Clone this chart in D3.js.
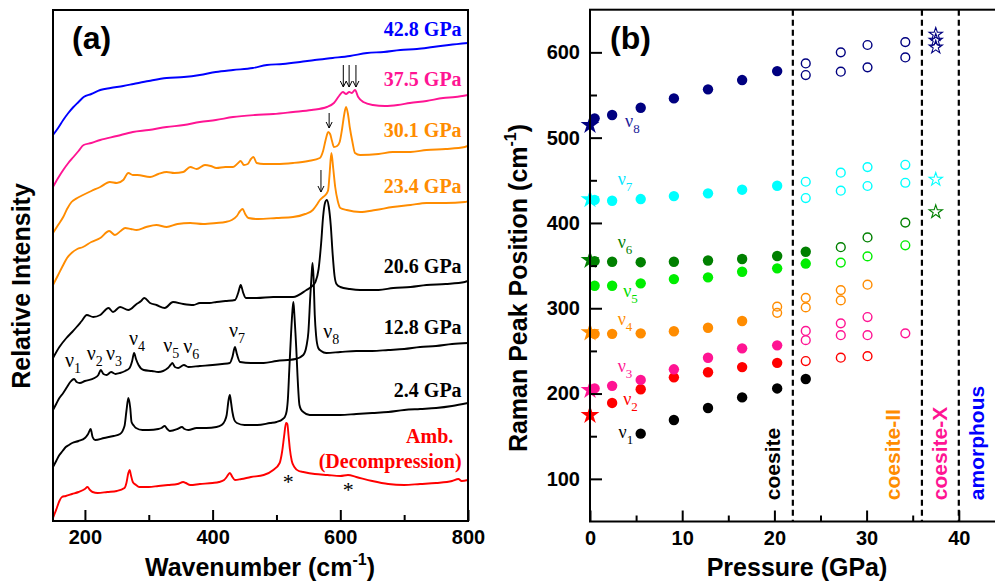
<!DOCTYPE html>
<html><head><meta charset="utf-8">
<script src="https://cdn.jsdelivr.net/npm/d3@7/dist/d3.min.js"></script>
<style>
body{margin:0;background:#fff;}
svg{display:block;}
</style></head>
<body>
<svg id="chart" width="995" height="587"></svg>
<script>
// ================= Panel (a): Raman spectra (wavenumber, relative intensity a.u.) =================
const spec428 = [[150,386],[158,393],[166,401],[174,408],[182,414],[190,419],[198,424],[210,427],[224,431],[240,433],[260,435],[276,437],[300,440],[328,443],[355,444],[380,446],[405,449],[432,451],[463,453],[485,456],[510,457],[537,459],[560,461],[588,463],[615,465],[642,468],[668,469],[694,471],[720,472],[745,474],[770,476],[800,478]];
const spec375 = [[150,334],[158,343],[166,351],[174,358],[182,364],[190,370],[198,376],[210,378],[224,381],[250,385],[275,389],[300,391],[328,394],[355,396],[380,399],[405,401],[432,404],[466,406],[495,407],[526,409],[555,411],[579,414],[590,418],[598,425],[604,429],[609,427],[614,429],[618,428],[623,431],[628,424],[636,419],[651,416],[670,415],[690,416],[709,418],[735,420],[761,423],[780,424],[800,426]];
const spec301 = [[150,288],[158,296],[166,304],[172,312],[179,319],[188,323],[197,326],[210,330],[224,334],[239,339],[250,338],[260,341],[268,348],[275,346],[282,346],[302,344],[315,347],[328,349],[340,348],[354,349],[365,354],[375,352],[388,356],[397,355],[406,353],[420,354],[432,354],[440,358],[444,360],[449,356],[455,357],[460,362],[464,364],[469,358],[480,357],[500,357],[526,358],[550,360],[568,363],[573,370],[577,381],[581,389],[584,387],[587,380],[590,374],[595,375],[599,379],[603,393],[606,406],[609,414],[612,407],[615,393],[619,379],[623,368],[631,366],[660,367],[682,369],[710,369],[735,371],[765,372],[795,374],[800,375]];
const spec234 = [[150,236],[158,246],[166,256],[172,263],[179,268],[188,272],[197,274],[210,279],[224,283],[238,290],[247,286],[256,290],[263,293],[272,292],[281,291],[296,294],[312,296],[328,294],[345,297],[365,298],[385,297],[406,298],[420,299],[430,301],[438,305],[443,310],[447,312],[451,307],[456,303],[471,302],[500,303],[526,304],[545,307],[557,311],[564,317],[568,321],[573,324],[578,327],[581,331],[583,345],[586,368],[589,352],[592,334],[596,320],[600,313],[610,311],[631,309],[655,311],[682,314],[710,316],[735,318],[765,318],[795,319],[800,320]];
const spec206 = [[150,163],[160,174],[171,183],[180,189],[187,194],[195,200],[203,206],[213,204],[224,206],[237,213],[244,209],[255,214],[268,211],[281,217],[288,220],[293,223],[302,218],[312,216],[325,213],[338,219],[354,217],[370,216],[380,218],[395,218],[406,219],[420,220],[435,221],[440,228],[444,236],[448,228],[452,223],[469,223],[495,224],[526,224],[547,231],[556,235],[561,239],[566,252],[570,278],[573,304],[576,318],[579,321],[582,314],[585,296],[588,267],[591,245],[594,237],[600,234],[615,232],[631,231],[660,231],[683,233],[710,234],[735,236],[765,237],[795,239],[800,240]];
const spec128 = [[150,111],[155,117],[160,123],[166,128],[172,134],[177,139],[183,142],[187,139],[192,138],[200,140],[215,143],[221,146],[225,151],[229,147],[234,146],[241,149],[248,147],[255,148],[263,150],[270,153],[274,160],[277,168],[280,162],[284,156],[292,151],[305,150],[315,149],[330,153],[334,156],[337,158],[341,154],[346,153],[355,156],[362,154],[380,155],[400,156],[415,157],[427,158],[431,164],[435,174],[438,167],[443,159],[460,158],[480,158],[500,160],[530,162],[542,166],[547,175],[550,189],[553,225],[555,246],[556.5,258],[558,245],[560,206],[562,186],[565.5,173],[570,170],[578,168],[600,169],[625,170],[650,170],[675,171],[700,172],[725,174],[750,175],[775,177],[800,178]];
const spec24 = [[150,54],[155,60],[160,66],[165,70],[170,74],[175,76],[180,78],[190,80],[200,83],[205,87],[209,92],[212,84],[216,81],[230,83],[245,85],[255,87],[262,95],[265,110],[268,123],[271,113],[273,99],[277,95],[280,93],[290,91],[300,91],[315,92],[320,93],[325,95],[329,92],[333,90],[345,92],[352,94],[356,92],[362,91],[375,93],[390,93],[406,94],[414,96],[419,100],[422,106],[425,121],[427,126],[429,118],[431,109],[434,101],[438,98],[450,96],[470,96],[490,98],[500,99],[510,102],[513,104],[516,110],[518,123],[520,150],[523,189],[525,210],[526.5,219],[528,207],[530,185],[531,173],[533,145],[536,116],[539,111],[542,109],[552,106],[565,106],[580,106],[600,106],[625,107],[650,108],[675,109],[700,111],[725,112],[750,113],[775,115],[800,118]];
const specAmb = [[150,3],[153,8],[156,13],[160,20],[164,24],[170,25],[180,27],[190,29],[200,32],[204,34],[208,31],[212,29],[220,28],[235,29],[250,30],[262,33],[265,38],[268,48],[270,51],[272,46],[275,39],[280,36],[285,34],[300,34],[315,35],[330,36],[345,37],[354,39],[358,38],[365,36],[380,37],[400,38],[410,39],[418,41],[422,44],[427,48],[431,44],[435,41],[445,42],[460,44],[480,46],[495,51],[505,58],[509,70],[512,85],[515,98],[517,97],[519,85],[521,72],[524,60],[528,54],[535,50],[542,49],[560,47],[580,46],[600,45],[612,46],[625,44],[650,40],[675,37],[700,36],[725,37],[750,38],[775,40],[785,42],[790,40],[800,41]];

const specNames  = ["42.8 GPa","37.5 GPa","30.1 GPa","23.4 GPa","20.6 GPa","12.8 GPa","2.4 GPa","Amb."];
const specColors = ["#0000FF","#FF1493","#FF8C00","#FF8C00","#000000","#000000","#000000","#FF0000"];
const specLabelW = [790,790,790,790,790,790,790,777];
const specLabelI = [485,435,384,328,248,187,124,78];

const wnTicks = [200,400,600,800];
const wnMinor = [300,500,700];

// mode labels on spectra (subscript, wavenumber, intensity)
const modeLabelN = [1,2,3,4,5,6,7,8];
const modeLabelW = [168.8,202.7,233,269,322.7,354,425.6,573.3];
const modeLabelI = [154,161,161,176,169,168,184,183];

// arrows: wavenumber, top intensity, bottom intensity
const arrowW   = [604.7,613.8,624.5,582.5,569.7];
const arrowTop = [456,456,456,408,351];
const arrowBot = [434,434,434,393,329];

// asterisks on ambient spectrum
const starMarkW = [518.5,612.5];
const starMarkI = [41,33];

// ================= Panel (b): peak positions vs pressure =================
const pFilled = [0.5,2.4,5.5,9.1,12.8,16.5,20.3,23.4];
const nu1 = [null,null,153,169,183,195.5,206,217];
const nu2 = [null,189,205,219,225,231,236,null];
const nu3 = [206,209,216,228.4,242,253,256.5,null];
const nu4 = [270,270,270.6,273,277.2,285,null,null];
const nu5 = [326.4,326.4,329.2,334.2,336.2,342.8,346.8,352.4];
const nu6 = [355.3,354.5,354,354.5,356,357.7,361.2,366.2];
const nu7 = [427,426,428,431.5,434.7,439,443.6,null];
const nu8 = [522.6,526.5,535,546,556.6,567.5,578,null];

const pOpen = [20.3,23.4,27.2,30.1,34.2];
const nu2Open = [[],[238.1],[242],[243.8],[]];
const nu3Open = [[],[273.4,262.6],[282.3,268.4],[289.7,268.4],[270.6]];
const nu4Open = [[301.9,294.6],[312.2,301],[321.3,309.2],[327.6],[]];
const nu5Open = [[],[],[353.5],[360.8],[373.8]];
const nu6Open = [[],[],[371.6],[383],[400.4]];
const nu7Open = [[],[448.3,429.2],[458.9,437.8],[465.5,443.3],[468.2,447.1]];
const nu8Open = [[],[587,573.4],[600,577.3],[608.6,582.4],[612,594]];

const pAmbient = 0;
const ambModes  = [2,3,4,6,7,8];
const ambValues = [174.8,204.1,271.7,356.5,427.7,514.8];

const pX = 37.5;
const xModes  = [8,8,8,7,6];
const xValues = [621,614,606,451,413];

const modeColors = {1:"#000000",2:"#FF0000",3:"#FF1493",4:"#FF8C00",5:"#00EE00",6:"#008000",7:"#00FFFF",8:"#000080"};
const modeLabelColors = {1:"#000000",2:"#FF0000",3:"#FF1493",4:"#FF8C00",5:"#00DD00",6:"#008000",7:"#00E5FF",8:"#1A1A9A"};
const bLabelN = [8,7,6,5,4,3,2,1];
const bLabelP = [3.8,3.0,3.0,3.6,3.0,3.0,3.6,3.1];
const bLabelV = [512,444.4,370.2,313.5,280.3,225.6,186.5,147.5];

const phaseBounds = [22,36,40];
const phaseNames  = ["coesite","coesite-II","coesite-X","amorphous"];
const phaseColors = ["#000000","#FF8C00","#FF1493","#0000FF"];
const phaseLabelP = [20.6,33.6,38.7,42.7];

const pTicks = [0,10,20,30,40];
const pMinor = [5,15,25,35];
const vTicks = [100,200,300,400,500,600];
const vMinor = [150,250,350,450,550];

// ================= Drawing =================
const SANS = "'Liberation Sans', Arial, Helvetica, sans-serif";
const SERIF = "'Liberation Serif', 'Times New Roman', serif";
const svg = d3.select("#chart");
const defs = svg.append("defs");

// ---------- panel (a)
const xA = d3.scaleLinear().domain([150,800]).range([53,468]);
const yA = d3.scaleLinear().domain([0,511]).range([521,10]);
defs.append("clipPath").attr("id","clipA").append("rect")
  .attr("x",xA(150)).attr("y",yA(511)).attr("width",xA(800)-xA(150)).attr("height",yA(0)-yA(511));
const gA = svg.append("g");

const lineA = d3.line().x(d=>xA(d[0])).y(d=>yA(d[1])).curve(d3.curveMonotoneX);
const allSpec = [spec428,spec375,spec301,spec234,spec206,spec128,spec24,specAmb];
gA.append("g").attr("clip-path","url(#clipA)").selectAll("path").data(allSpec).join("path")
  .attr("d",d=>lineA(d)).attr("fill","none")
  .attr("stroke",(d,i)=>specColors[i]).attr("stroke-width",1.9).attr("stroke-linejoin","round");

// pressure labels
gA.selectAll("text.pl").data(specNames).join("text").attr("class","pl")
  .attr("x",(d,i)=>xA(specLabelW[i])).attr("y",(d,i)=>yA(specLabelI[i]))
  .attr("text-anchor","end").attr("font-family",SERIF).attr("font-weight","bold")
  .attr("font-size",20).attr("fill",(d,i)=>specColors[i]).text(d=>d);
gA.append("text").attr("x",xA(790)).attr("y",yA(53)).attr("text-anchor","end")
  .attr("font-family",SERIF).attr("font-weight","bold").attr("font-size",20).attr("fill","#FF0000")
  .text("(Decompression)");

// mode labels
const ml = gA.selectAll("text.ml").data(modeLabelN).join("text").attr("class","ml")
  .attr("x",(d,i)=>xA(modeLabelW[i])).attr("y",(d,i)=>yA(modeLabelI[i]))
  .attr("font-family",SERIF).attr("font-size",20).attr("fill","#000");
ml.append("tspan").text("ν");
ml.append("tspan").attr("dy",6).attr("font-size",14).text(d=>d);

// arrows
defs.append("marker").attr("id","arr").attr("viewBox","0 0 8 8").attr("refX",7).attr("refY",4)
  .attr("markerWidth",8).attr("markerHeight",8).attr("markerUnits","userSpaceOnUse").attr("orient","auto")
  .append("path").attr("d","M1,1 L7,4 L1,7").attr("fill","none").attr("stroke","#000").attr("stroke-width",1);
gA.selectAll("line.ar").data(arrowW).join("line").attr("class","ar")
  .attr("x1",d=>xA(d)).attr("x2",d=>xA(d))
  .attr("y1",(d,i)=>yA(arrowTop[i])).attr("y2",(d,i)=>yA(arrowBot[i]))
  .attr("stroke","#000").attr("stroke-width",1).attr("marker-end","url(#arr)");

// asterisks
gA.selectAll("text.ast").data(starMarkW).join("text").attr("class","ast")
  .attr("x",d=>xA(d)).attr("y",(d,i)=>yA(starMarkI[i])+9)
  .attr("text-anchor","middle").attr("font-family",SERIF).attr("font-size",22).text("*");

// axes
function styleAxis(g){
  g.select(".domain").remove();
  g.selectAll(".tick line").attr("stroke","#000").attr("stroke-width",2);
  g.selectAll(".tick text").attr("font-family",SANS).attr("font-weight","bold").attr("font-size",20).attr("fill","#000");
}
gA.append("g").attr("transform",`translate(0,${yA(0)})`)
  .call(d3.axisBottom(xA).tickValues(wnTicks).tickSize(-11).tickPadding(9).tickFormat(d3.format("d"))).call(styleAxis);
gA.append("g").attr("transform",`translate(0,${yA(0)})`)
  .call(d3.axisBottom(xA).tickValues(wnMinor).tickSize(-6).tickFormat("")).call(styleAxis);
gA.append("rect").attr("x",xA(150)).attr("y",yA(511)).attr("width",xA(800)-xA(150)).attr("height",yA(0)-yA(511))
  .attr("fill","none").attr("stroke","#000").attr("stroke-width",2);

gA.append("text").attr("x",72).attr("y",49).attr("font-family",SANS).attr("font-weight","bold").attr("font-size",32).text("(a)");
const xtA = gA.append("text").attr("x",260).attr("y",576).attr("text-anchor","middle")
  .attr("font-family",SANS).attr("font-weight","bold").attr("font-size",25);
xtA.append("tspan").text("Wavenumber (cm");
xtA.append("tspan").attr("dy",-11).attr("font-size",16).text("-1");
xtA.append("tspan").attr("dy",11).text(")");
gA.append("text").attr("transform","translate(30,286) rotate(-90)").attr("text-anchor","middle")
  .attr("font-family",SANS).attr("font-weight","bold").attr("font-size",25).text("Relative Intensity");

// ---------- panel (b)
const xB = d3.scaleLinear().domain([0,45]).range([590,1004.9]);
const yB = d3.scaleLinear().domain([50,650]).range([521.5,9.7]);
const gB = svg.append("g");

// dashed boundaries
gB.selectAll("line.ph").data(phaseBounds).join("line").attr("class","ph")
  .attr("x1",d=>xB(d)).attr("x2",d=>xB(d)).attr("y1",yB(650)).attr("y2",yB(50))
  .attr("stroke","#000").attr("stroke-width",2.2).attr("stroke-dasharray","6,4");

// filled circles
const filledSets = [[1,nu1],[2,nu2],[3,nu3],[4,nu4],[5,nu5],[6,nu6],[7,nu7],[8,nu8]];
const filledPts = [];
filledSets.forEach(([m,arr])=>arr.forEach((v,i)=>{ if(v!==null) filledPts.push({m, p:pFilled[i], v}); }));
gB.selectAll("circle.f").data(filledPts).join("circle").attr("class","f")
  .attr("cx",d=>xB(d.p)).attr("cy",d=>yB(d.v)).attr("r",5.2).attr("fill",d=>modeColors[d.m]);

// open circles
const openSets = [[2,nu2Open],[3,nu3Open],[4,nu4Open],[5,nu5Open],[6,nu6Open],[7,nu7Open],[8,nu8Open]];
const openPts = [];
openSets.forEach(([m,arr])=>arr.forEach((vs,i)=>vs.forEach(v=>openPts.push({m, p:pOpen[i], v}))));
gB.selectAll("circle.o").data(openPts).join("circle").attr("class","o")
  .attr("cx",d=>xB(d.p)).attr("cy",d=>yB(d.v)).attr("r",4.4).attr("fill","none")
  .attr("stroke",d=>modeColors[d.m]).attr("stroke-width",1.4);

// stars
const starBig = d3.symbol().type(d3.symbolStar).size(110);
const starSmall = d3.symbol().type(d3.symbolStar).size(55);
gB.selectAll("path.sa").data(ambModes).join("path").attr("class","sa")
  .attr("transform",(d,i)=>`translate(${xB(pAmbient)},${yB(ambValues[i])})`).attr("d",starBig)
  .attr("fill",d=>modeColors[d]);
gB.selectAll("path.sx").data(xModes).join("path").attr("class","sx")
  .attr("transform",(d,i)=>`translate(${xB(pX)},${yB(xValues[i])})`).attr("d",starSmall)
  .attr("fill","none").attr("stroke",d=>modeColors[d]).attr("stroke-width",1.1);

// mode labels
const bl = gB.selectAll("text.bl").data(bLabelN).join("text").attr("class","bl")
  .attr("x",(d,i)=>xB(bLabelP[i])).attr("y",(d,i)=>yB(bLabelV[i]))
  .attr("font-family",SERIF).attr("font-size",18).attr("fill",d=>modeLabelColors[d]);
bl.append("tspan").text("ν");
bl.append("tspan").attr("dy",6).attr("font-size",13).text(d=>d);

// phase labels
gB.selectAll("text.pn").data(phaseNames).join("text").attr("class","pn")
  .attr("transform",(d,i)=>`translate(${xB(phaseLabelP[i])},${yB(75)}) rotate(-90)`)
  .attr("font-family",SANS).attr("font-weight","bold").attr("font-size",21)
  .attr("fill",(d,i)=>phaseColors[i]).text(d=>d);

// axes
gB.append("g").attr("transform",`translate(0,${yB(50)})`)
  .call(d3.axisBottom(xB).tickValues(pTicks).tickSize(-11).tickPadding(9).tickFormat(d3.format("d"))).call(styleAxis);
gB.append("g").attr("transform",`translate(0,${yB(50)})`)
  .call(d3.axisBottom(xB).tickValues(pMinor).tickSize(-6).tickFormat("")).call(styleAxis);
gB.append("g").attr("transform",`translate(${xB(0)},0)`)
  .call(d3.axisLeft(yB).tickValues(vTicks).tickSize(-12).tickPadding(10).tickFormat(d3.format("d"))).call(styleAxis);
gB.append("g").attr("transform",`translate(${xB(0)},0)`)
  .call(d3.axisLeft(yB).tickValues(vMinor).tickSize(-7).tickFormat("")).call(styleAxis);
gB.append("rect").attr("x",xB(0)).attr("y",yB(650)).attr("width",xB(45)-xB(0)).attr("height",yB(50)-yB(650))
  .attr("fill","none").attr("stroke","#000").attr("stroke-width",2);

gB.append("text").attr("x",610).attr("y",49).attr("font-family",SANS).attr("font-weight","bold").attr("font-size",32).text("(b)");
gB.append("text").attr("x",797).attr("y",576).attr("text-anchor","middle")
  .attr("font-family",SANS).attr("font-weight","bold").attr("font-size",25).text("Pressure (GPa)");
const ytB = gB.append("text").attr("transform","translate(527,288) rotate(-90)").attr("text-anchor","middle")
  .attr("font-family",SANS).attr("font-weight","bold").attr("font-size",25);
ytB.append("tspan").text("Raman Peak Position (cm");
ytB.append("tspan").attr("dy",-11).attr("font-size",16).text("-1");
ytB.append("tspan").attr("dy",11).text(")");
</script>
</body></html>
